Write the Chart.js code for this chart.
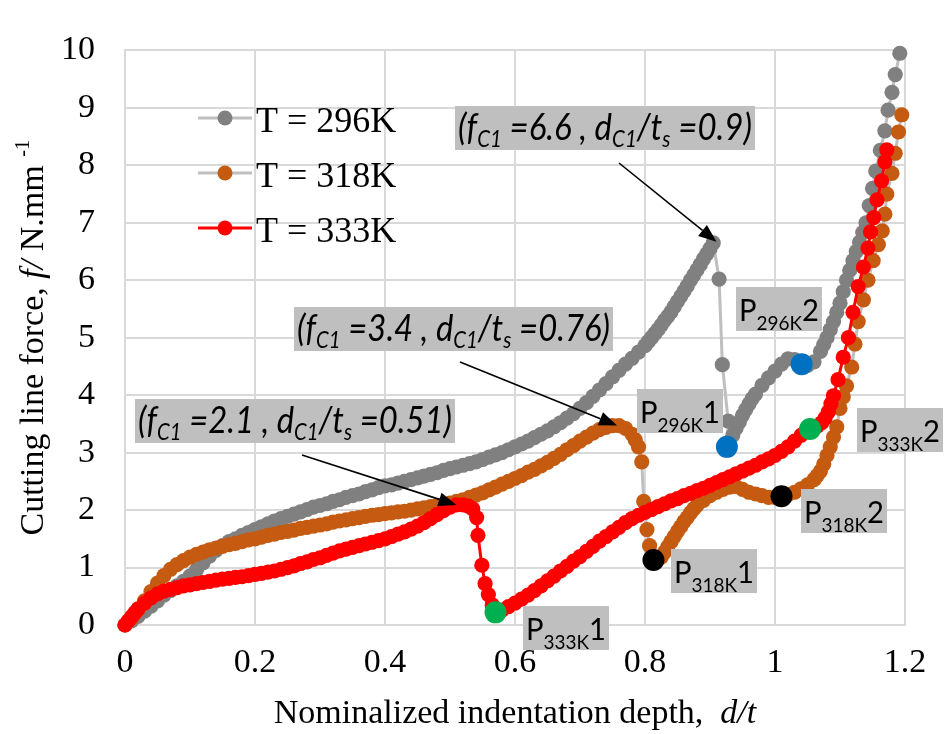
<!DOCTYPE html>
<html>
<head>
<meta charset="utf-8">
<script src="https://cdn.jsdelivr.net/npm/chart.js@4.4.1/dist/chart.umd.min.js"></script>
<style>
  html, body { margin: 0; padding: 0; background: #fff; }
  #wrap { width: 947px; height: 734px; }
</style>
</head>
<body>
<div id="wrap"><canvas id="chart"></canvas></div>
<script>
// Curves, [d/t, f]
const curve296K = [
  [0,0],[0.01,0.07],[0.02,0.15],[0.03,0.24],[0.04,0.33],[0.05,0.42],[0.06,0.52],[0.07,0.6],[0.08,0.68],[0.09,0.76],
  [0.1,0.85],[0.11,0.96],[0.12,1.08],[0.13,1.2],[0.14,1.3],[0.15,1.38],[0.16,1.45],[0.17,1.5],[0.18,1.56],[0.19,1.61],
  [0.2,1.66],[0.21,1.71],[0.22,1.76],[0.23,1.81],[0.24,1.85],[0.25,1.89],[0.26,1.93],[0.27,1.97],[0.28,2.01],[0.29,2.05],
  [0.3,2.08],[0.31,2.11],[0.32,2.15],[0.33,2.18],[0.34,2.22],[0.35,2.25],[0.36,2.28],[0.37,2.32],[0.38,2.35],[0.39,2.39],
  [0.4,2.42],[0.41,2.44],[0.42,2.47],[0.43,2.5],[0.44,2.53],[0.45,2.56],[0.46,2.59],[0.47,2.62],[0.48,2.65],[0.49,2.69],
  [0.5,2.72],[0.51,2.75],[0.52,2.78],[0.53,2.81],[0.54,2.84],[0.55,2.88],[0.56,2.92],[0.57,2.96],[0.58,3.0],[0.59,3.05],
  [0.6,3.1],[0.61,3.15],[0.62,3.2],[0.63,3.26],[0.64,3.32],[0.65,3.38],[0.66,3.45],[0.67,3.52],[0.68,3.6],[0.69,3.68],
  [0.7,3.77],[0.71,3.87],[0.72,3.98],[0.73,4.09],[0.74,4.2],[0.75,4.32],[0.76,4.43],[0.77,4.54],[0.78,4.64],[0.79,4.75],
  [0.8,4.86],[0.805,4.93],[0.81,5.0],[0.815,5.07],[0.82,5.14],[0.825,5.22],[0.83,5.3],[0.835,5.37],[0.84,5.45],[0.845,5.54],
  [0.85,5.63],[0.855,5.72],[0.86,5.81],[0.865,5.9],[0.87,6.0],[0.875,6.09],[0.88,6.18],[0.885,6.27],[0.89,6.37],[0.895,6.46],
  [0.9,6.55],[0.905,6.65],[0.914,6.02],[0.919,4.53],[0.928,3.55],[0.926,3.1],[0.935,3.3],[0.94,3.42],[0.945,3.53],[0.95,3.65],
  [0.955,3.75],[0.96,3.85],[0.965,3.94],[0.97,4.02],[0.98,4.17],[0.99,4.3],[1.0,4.42],[1.01,4.54],[1.02,4.63],[1.03,4.62],
  [1.04,4.55],[1.05,4.52],[1.06,4.58],[1.07,4.76],[1.075,4.88],[1.08,5.0],[1.085,5.14],[1.09,5.28],[1.095,5.44],[1.1,5.6],
  [1.105,5.8],[1.11,6.0],[1.115,6.17],[1.12,6.34],[1.125,6.5],[1.13,6.66],[1.135,6.83],[1.14,7.0],[1.145,7.3],[1.15,7.6],
  [1.155,7.9],[1.162,8.26],[1.169,8.6],[1.174,8.96],[1.18,9.27],[1.185,9.58],[1.192,9.95]
];

const curve318K = [
  [0,0],[0.01,0.12],[0.02,0.26],[0.03,0.42],[0.04,0.58],[0.05,0.73],[0.06,0.86],[0.07,0.97],[0.08,1.05],[0.09,1.12],
  [0.1,1.18],[0.11,1.23],[0.12,1.27],[0.13,1.31],[0.14,1.34],[0.15,1.37],[0.16,1.4],[0.17,1.42],[0.18,1.45],[0.19,1.48],
  [0.2,1.5],[0.21,1.53],[0.22,1.56],[0.23,1.58],[0.24,1.61],[0.25,1.63],[0.26,1.65],[0.27,1.68],[0.28,1.7],[0.29,1.72],
  [0.3,1.74],[0.31,1.76],[0.32,1.79],[0.33,1.81],[0.34,1.83],[0.35,1.85],[0.36,1.87],[0.37,1.89],[0.38,1.91],[0.39,1.92],
  [0.4,1.94],[0.41,1.95],[0.42,1.97],[0.43,1.98],[0.44,2.0],[0.45,2.02],[0.46,2.04],[0.47,2.06],[0.48,2.08],[0.49,2.1],
  [0.5,2.12],[0.51,2.15],[0.52,2.18],[0.53,2.22],[0.54,2.26],[0.55,2.3],[0.56,2.35],[0.57,2.4],[0.58,2.45],[0.59,2.5],
  [0.6,2.55],[0.61,2.6],[0.62,2.66],[0.63,2.71],[0.64,2.77],[0.65,2.83],[0.66,2.9],[0.67,2.97],[0.68,3.05],[0.69,3.12],
  [0.7,3.2],[0.71,3.27],[0.72,3.34],[0.73,3.4],[0.74,3.44],[0.75,3.47],[0.76,3.47],[0.77,3.42],[0.78,3.32],[0.785,3.22],
  [0.79,3.1],[0.795,2.84],[0.798,2.15],[0.803,1.66],[0.807,1.38],[0.815,1.13],[0.825,1.18],[0.83,1.27],[0.835,1.36],[0.84,1.45],
  [0.845,1.54],[0.85,1.63],[0.855,1.71],[0.86,1.8],[0.865,1.87],[0.87,1.95],[0.875,2.02],[0.88,2.08],[0.89,2.17],[0.9,2.25],
  [0.91,2.31],[0.92,2.36],[0.93,2.4],[0.94,2.41],[0.95,2.36],[0.96,2.31],[0.97,2.28],[0.98,2.25],[0.99,2.22],[1.0,2.22],
  [1.01,2.24],[1.02,2.27],[1.03,2.31],[1.04,2.37],[1.05,2.44],[1.06,2.53],[1.065,2.6],[1.07,2.68],[1.075,2.8],[1.08,2.95],
  [1.085,3.1],[1.09,3.27],[1.095,3.45],[1.1,3.77],[1.105,3.97],[1.11,4.16],[1.118,4.49],[1.123,4.89],[1.128,5.28],[1.136,5.66],
  [1.143,6.0],[1.151,6.34],[1.159,6.62],[1.165,6.86],[1.169,7.15],[1.172,7.5],[1.18,7.86],[1.185,8.21],[1.19,8.58],[1.195,8.88]
];

const curve333K = [
  [0,0],[0.005,0.07],[0.01,0.14],[0.015,0.21],[0.02,0.28],[0.03,0.38],[0.04,0.47],[0.05,0.54],[0.06,0.59],[0.07,0.62],
  [0.08,0.65],[0.09,0.68],[0.1,0.7],[0.11,0.72],[0.12,0.74],[0.13,0.76],[0.14,0.78],[0.15,0.8],[0.16,0.81],[0.17,0.83],
  [0.18,0.84],[0.19,0.86],[0.2,0.88],[0.21,0.9],[0.22,0.92],[0.23,0.94],[0.24,0.97],[0.25,1.0],[0.26,1.03],[0.27,1.07],
  [0.28,1.1],[0.29,1.14],[0.3,1.17],[0.31,1.21],[0.32,1.25],[0.33,1.29],[0.34,1.32],[0.35,1.35],[0.36,1.38],[0.37,1.41],
  [0.38,1.44],[0.39,1.47],[0.4,1.5],[0.41,1.54],[0.42,1.58],[0.43,1.62],[0.44,1.67],[0.45,1.72],[0.46,1.78],[0.47,1.85],
  [0.48,1.92],[0.49,1.99],[0.5,2.05],[0.51,2.09],[0.52,2.09],[0.528,2.07],[0.535,2.02],[0.541,1.87],[0.543,1.56],[0.549,1.04],
  [0.554,0.72],[0.559,0.53],[0.565,0.35],[0.57,0.22],[0.575,0.22],[0.58,0.26],[0.59,0.32],[0.6,0.38],[0.61,0.45],[0.62,0.52],
  [0.63,0.6],[0.64,0.68],[0.65,0.77],[0.66,0.85],[0.67,0.94],[0.68,1.02],[0.69,1.11],[0.7,1.19],[0.71,1.28],[0.72,1.37],
  [0.73,1.46],[0.74,1.54],[0.75,1.62],[0.76,1.7],[0.77,1.78],[0.78,1.85],[0.79,1.91],[0.8,1.96],[0.81,2.01],[0.82,2.06],
  [0.83,2.11],[0.84,2.16],[0.85,2.2],[0.86,2.25],[0.87,2.29],[0.88,2.34],[0.89,2.38],[0.9,2.43],[0.91,2.48],[0.92,2.53],
  [0.93,2.58],[0.94,2.63],[0.95,2.68],[0.96,2.73],[0.97,2.78],[0.98,2.84],[0.99,2.89],[1.0,2.95],[1.01,3.02],[1.02,3.1],
  [1.03,3.2],[1.04,3.3],[1.047,3.36],[1.054,3.41],[1.065,3.46],[1.072,3.52],[1.077,3.6],[1.082,3.71],[1.086,3.85],[1.09,3.99],
  [1.097,4.27],[1.105,4.66],[1.113,5.0],[1.12,5.44],[1.128,5.89],[1.136,6.23],[1.143,6.56],[1.147,6.84],[1.152,7.09],[1.157,7.4],
  [1.164,7.73],[1.169,8.06],[1.172,8.27]
];

// Marked points P1 / P2 for each temperature
const points296K = [[0.926, 3.1], [1.041, 4.54]];
const points318K = [[0.813, 1.13], [1.01, 2.24]];
const points333K = [[0.57, 0.22], [1.054, 3.41]];

const seriesLabels = ['T = 296K', 'T = 318K', 'T = 333K'];
const xTickLabels = ['0', '0.2', '0.4', '0.6', '0.8', '1', '1.2'];
const yTickLabels = ['0', '1', '2', '3', '4', '5', '6', '7', '8', '9', '10'];

// Critical points (fC1, dC1/ts) with arrow target on the curve
const critF = ['6.6', '3.4', '2.1'];
const critD = ['0.9', '0.76', '0.51'];
const critTipX = [0.91, 0.757, 0.51];
const critTipY = [6.67, 3.47, 2.09];

// Labels next to the marked points
const markTemps = ['296K', '296K', '318K', '318K', '333K', '333K'];
const markIndex = ['1', '2', '1', '2', '1', '2'];

const SERIF = '"Liberation Serif", "Times New Roman", serif';
const SANS = 'Lato, "Open Sans", sans-serif';

const GRAY = '#808080';
const ORANGE = '#c55a11';
const RED = '#ff0000';
const LINE_GRAY = '#bfbfbf';
const BOX_GRAY = '#bfbfbf';

function toXY(arr) {
    return arr.map(p => ({ x: p[0], y: p[1] }));
}

// Text with sub/superscripts. parts: [text, 'n'|'sub'|'sup', italic?]
function fontFor(part, o) {
    const size = part[1] === 'n' ? o.size : o.size * (o.smallScale || 0.62);
    const italic = part[2] !== undefined ? part[2] : o.italic;
    return (italic ? 'italic ' : '') + size + 'px ' + o.family;
}

function drawRich(ctx, parts, x, y, o) {
    ctx.save();
    let total = 0;
    parts.forEach(p => {
        ctx.font = fontFor(p, o);
        total += ctx.measureText(p[0]).width;
    });
    const sx = o.width ? o.width / total : 1;
    ctx.translate(x, y);
    if (o.align === 'center') ctx.translate(-total * sx / 2, 0);
    ctx.scale(sx, 1);
    ctx.textAlign = 'left';
    ctx.textBaseline = 'alphabetic';
    ctx.fillStyle = '#000';
    let cx = 0;
    parts.forEach(p => {
        ctx.font = fontFor(p, o);
        let dy = 0;
        if (p[1] === 'sub') dy = o.subDy || o.size * 0.2;
        if (p[1] === 'sup') dy = -o.size * 0.42;
        ctx.fillText(p[0], cx, dy);
        cx += ctx.measureText(p[0]).width;
    });
    ctx.restore();
}

function drawArrow(ctx, x1, y1, x2, y2) {
    const ang = Math.atan2(y2 - y1, x2 - x1);
    const len = 18, half = 7;
    const bx = x2 - len * Math.cos(ang);
    const by = y2 - len * Math.sin(ang);
    ctx.save();
    ctx.strokeStyle = '#000';
    ctx.fillStyle = '#000';
    ctx.lineWidth = 1.6;
    ctx.beginPath();
    ctx.moveTo(x1, y1);
    ctx.lineTo(bx, by);
    ctx.stroke();
    ctx.beginPath();
    ctx.moveTo(x2, y2);
    ctx.lineTo(bx + half * Math.sin(ang), by - half * Math.cos(ang));
    ctx.lineTo(bx - half * Math.sin(ang), by + half * Math.cos(ang));
    ctx.closePath();
    ctx.fill();
    ctx.restore();
}

// Layout of the annotation boxes (pixels)
const critBoxes = [
    { x: 455, y: 106, w: 300, h: 44, fx: 619, fy: 163 },
    { x: 294, y: 307, w: 319, h: 44, fx: 460, fy: 362 },
    { x: 135, y: 399, w: 320, h: 44, fx: 302, fy: 455 }
];
const markBoxes = [
    { x: 637, y: 389 }, { x: 736, y: 287 },
    { x: 671, y: 549 }, { x: 801, y: 489 },
    { x: 523, y: 606 }, { x: 857, y: 408 }
];

const decorPlugin = {
    id: 'decor',
    afterDatasetsDraw(chart) {
        const ctx = chart.ctx;
        const xs = chart.scales.x, ys = chart.scales.y;
        const area = chart.chartArea;

        // Critical point boxes + arrows
        critBoxes.forEach((b, i) => {
            ctx.fillStyle = BOX_GRAY;
            ctx.fillRect(b.x, b.y, b.w, b.h);
            const parts = [
                ['(f', 'n'], ['C1', 'sub'], [' =' + critF[i] + ' , d', 'n'], ['C1', 'sub'],
                ['/t', 'n'], ['s', 'sub'], [' =' + critD[i] + ')', 'n']
            ];
            drawRich(ctx, parts, b.x + 3, b.y + 34, {
                size: 36, family: SANS, italic: true, width: b.w - 6, subDy: 7
            });
            drawArrow(ctx, b.fx, b.fy, xs.getPixelForValue(critTipX[i]), ys.getPixelForValue(critTipY[i]));
        });

        // Point labels
        markBoxes.forEach((b, i) => {
            ctx.fillStyle = BOX_GRAY;
            ctx.fillRect(b.x, b.y, 86, 44);
            const parts = [['P', 'n'], [markTemps[i], 'sub'], [markIndex[i], 'n']];
            drawRich(ctx, parts, b.x + 3, b.y + 34, {
                size: 30, family: SANS, italic: false, width: 80, subDy: 9, smallScale: 0.65
            });
        });

        // Legend
        const legendColors = [GRAY, ORANGE, RED];
        const legendLines = [LINE_GRAY, LINE_GRAY, RED];
        seriesLabels.forEach((lab, i) => {
            const y = 118 + i * 55;
            ctx.save();
            ctx.strokeStyle = legendLines[i];
            ctx.lineWidth = 3;
            ctx.beginPath();
            ctx.moveTo(198, y);
            ctx.lineTo(252, y);
            ctx.stroke();
            ctx.fillStyle = legendColors[i];
            ctx.beginPath();
            ctx.arc(225, y, 7.5, 0, Math.PI * 2);
            ctx.fill();
            ctx.fillStyle = '#000';
            ctx.font = '36px ' + SERIF;
            ctx.textAlign = 'left';
            ctx.textBaseline = 'alphabetic';
            ctx.fillText(lab, 256, y + 14);
            ctx.restore();
        });

        // Axis titles
        drawRich(ctx, [['Nominalized indentation depth,  ', 'n'], ['d/t', 'n', true]],
            (area.left + area.right) / 2, 723, { size: 34, family: SERIF, italic: false, align: 'center' });

        ctx.save();
        ctx.translate(43, (area.top + area.bottom) / 2);
        ctx.rotate(-Math.PI / 2);
        drawRich(ctx, [['Cutting line force, ', 'n'], ['f/', 'n', true], [' N.mm ', 'n'], ['-1', 'sup']],
            0, 0, { size: 34, family: SERIF, italic: false, align: 'center', smallScale: 0.6 });
        ctx.restore();
    }
};

function seriesDataset(label, data, color, lineColor, order) {
    return {
        label: label,
        data: toXY(data),
        showLine: true,
        borderColor: lineColor,
        borderWidth: 3,
        pointBackgroundColor: color,
        pointBorderColor: color,
        pointBorderWidth: 0,
        pointRadius: 7.6,
        order: order
    };
}

function markDataset(data, color) {
    return {
        data: toXY(data),
        showLine: false,
        pointBackgroundColor: color,
        pointBorderColor: color,
        pointBorderWidth: 0,
        pointRadius: 11,
        order: 0
    };
}

const axisGrid = { color: '#d9d9d9', lineWidth: 2, drawTicks: false };
const axisBorder = { color: '#d9d9d9', width: 2 };

new Chart(document.getElementById('chart'), {
    type: 'scatter',
    data: {
        datasets: [
            markDataset(points296K, '#0070c0'),
            markDataset(points318K, '#000000'),
            markDataset(points333K, '#00b050'),
            seriesDataset(seriesLabels[2], curve333K, RED, RED, 1),
            seriesDataset(seriesLabels[1], curve318K, ORANGE, LINE_GRAY, 2),
            seriesDataset(seriesLabels[0], curve296K, GRAY, LINE_GRAY, 3)
        ]
    },
    options: {
        responsive: true,
        maintainAspectRatio: false,
        animation: false,
        events: [],
        clip: false,
        layout: { padding: { top: 28, right: 42, left: 0, bottom: 0 } },
        plugins: {
            legend: { display: false },
            tooltip: { enabled: false }
        },
        scales: {
            x: {
                type: 'linear',
                min: 0,
                max: 1.2,
                afterFit: s => { s.height = 109; },
                grid: axisGrid,
                border: axisBorder,
                ticks: {
                    stepSize: 0.2,
                    padding: 18,
                    color: '#000',
                    maxRotation: 0,
                    autoSkip: false,
                    font: { family: SERIF, size: 34 },
                    callback: (v, i) => xTickLabels[i]
                }
            },
            y: {
                min: 0,
                max: 10,
                afterFit: s => { s.width = 125; },
                grid: axisGrid,
                border: axisBorder,
                ticks: {
                    stepSize: 1,
                    padding: 30,
                    color: '#000',
                    font: { family: SERIF, size: 34 },
                    callback: (v, i) => yTickLabels[i]
                }
            }
        }
    },
    plugins: [decorPlugin]
});
</script>
</body>
</html>
